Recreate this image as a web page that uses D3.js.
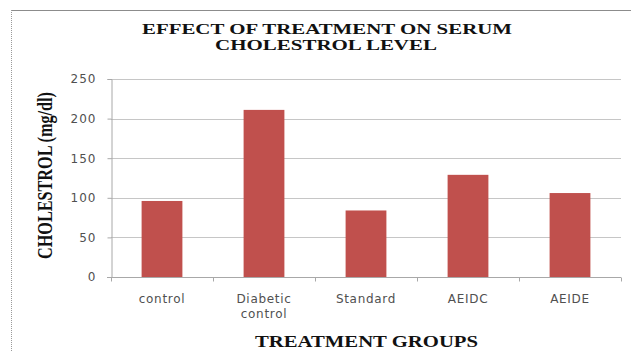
<!DOCTYPE html>
<html>
<head>
<meta charset="utf-8">
<script src="https://cdn.jsdelivr.net/npm/d3@7"></script>
<style>
  html, body { margin: 0; padding: 0; background: #fff; }
  svg { display: block; }
</style>
</head>
<body>
<svg id="chart" width="631" height="352"></svg>
<script>
// Serum cholesterol (mg/dl) per treatment group
const groups = ["control", "Diabetic control", "Standard", "AEIDC", "AEIDE"];
const groupLines = [["control"], ["Diabetic", "control"], ["Standard"], ["AEIDC"], ["AEIDE"]];
const cholesterol = [96, 211, 84, 129, 106];
const yTicks = [0, 50, 100, 150, 200, 250];
const titleLines = ["EFFECT OF TREATMENT ON SERUM", "CHOLESTROL LEVEL"];
const xTitle = "TREATMENT GROUPS";
const yTitle = "CHOLESTROL (mg/dl)";

const svg = d3.select("#chart");
const W = 631, H = 352;
const plot = { left: 111, right: 621, top: 79, bottom: 277 };
const sans = "'DejaVu Sans', 'Open Sans', sans-serif";
const serif = "'Liberation Serif', 'Times New Roman', serif";

// Outer frame: top and left edges
svg.append("line").attr("x1", 11).attr("x2", W).attr("y1", 10.5).attr("y2", 10.5)
  .attr("stroke", "#8c8c8c").attr("stroke-width", 1);
svg.append("line").attr("x1", 11.5).attr("x2", 11.5).attr("y1", 10).attr("y2", H)
  .attr("stroke", "#9a9a9a").attr("stroke-width", 1).attr("stroke-dasharray", "1,1");

const x = d3.scaleBand().domain(groups).range([plot.left, plot.right])
  .paddingInner(0.6).paddingOuter(0.3);
const y = d3.scaleLinear().domain([0, 250]).range([plot.bottom, plot.top]);

// Horizontal gridlines
svg.append("g").selectAll("line").data(yTicks.filter(d => d > 0)).join("line")
  .attr("x1", plot.left).attr("x2", plot.right)
  .attr("y1", d => Math.round(y(d)) + 0.5).attr("y2", d => Math.round(y(d)) + 0.5)
  .attr("stroke", "#c6c6c6").attr("stroke-width", 1.2);

// Y axis
const yAxis = d3.axisLeft(y).tickValues(yTicks).tickSize(4).tickPadding(11);
const gy = svg.append("g").attr("transform", `translate(${plot.left + 0.5},0)`).call(yAxis);
gy.select(".domain").attr("stroke", "#a8a8a8");
gy.selectAll(".tick line").attr("stroke", "#a8a8a8");
gy.selectAll(".tick text").attr("fill", "#505050")
  .style("font-family", sans).style("font-size", "12px").style("letter-spacing", "1px");

// Bars
svg.append("g").selectAll("rect").data(cholesterol).join("rect")
  .attr("x", (d, i) => x(groups[i]))
  .attr("width", x.bandwidth())
  .attr("y", d => y(d))
  .attr("height", d => y(0) - y(d))
  .attr("fill", "#c0504d");

// X axis with ticks at category boundaries
const gx = svg.append("g").attr("transform", `translate(0,${plot.bottom + 0.5})`);
gx.append("line").attr("x1", plot.left - 4).attr("x2", plot.right)
  .attr("stroke", "#a8a8a8");
const step = (plot.right - plot.left) / groups.length;
gx.selectAll(".bt").data(d3.range(groups.length + 1)).join("line").attr("class", "bt")
  .attr("x1", i => Math.round(plot.left + i * step) + 0.5).attr("x2", i => Math.round(plot.left + i * step) + 0.5)
  .attr("y1", 0).attr("y2", 4).attr("stroke", "#a8a8a8");

// Category labels (one text element per line)
const lblData = groupLines.flatMap((lines, i) => lines.map((t, j) => ({ t, i, j })));
svg.append("g").selectAll("text").data(lblData).join("text")
  .attr("x", d => x(groups[d.i]) + x.bandwidth() / 2)
  .attr("y", d => 303 + d.j * 15)
  .attr("text-anchor", "middle")
  .attr("fill", "#505050")
  .style("font-family", sans).style("font-size", "12px").style("letter-spacing", "0.7px")
  .text(d => d.t);

// Titles
svg.append("text").attr("x", 327).attr("y", 34).attr("text-anchor", "middle")
  .attr("textLength", 370).attr("lengthAdjust", "spacingAndGlyphs")
  .style("font-family", serif).style("font-weight", "bold").style("font-size", "15px")
  .attr("fill", "#111").text(titleLines[0]);
svg.append("text").attr("x", 326).attr("y", 50).attr("text-anchor", "middle")
  .attr("textLength", 222).attr("lengthAdjust", "spacingAndGlyphs")
  .style("font-family", serif).style("font-weight", "bold").style("font-size", "15px")
  .attr("fill", "#111").text(titleLines[1]);

svg.append("text").attr("x", 366.5).attr("y", 347).attr("text-anchor", "middle")
  .attr("textLength", 223).attr("lengthAdjust", "spacingAndGlyphs")
  .style("font-family", serif).style("font-weight", "bold").style("font-size", "17px")
  .attr("fill", "#111").text(xTitle);

svg.append("text")
  .attr("transform", "translate(52,175.5) rotate(-90)")
  .attr("text-anchor", "middle")
  .attr("textLength", 167).attr("lengthAdjust", "spacingAndGlyphs")
  .style("font-family", serif).style("font-weight", "bold").style("font-size", "20px")
  .attr("fill", "#111").text(yTitle);
</script>
</body>
</html>
